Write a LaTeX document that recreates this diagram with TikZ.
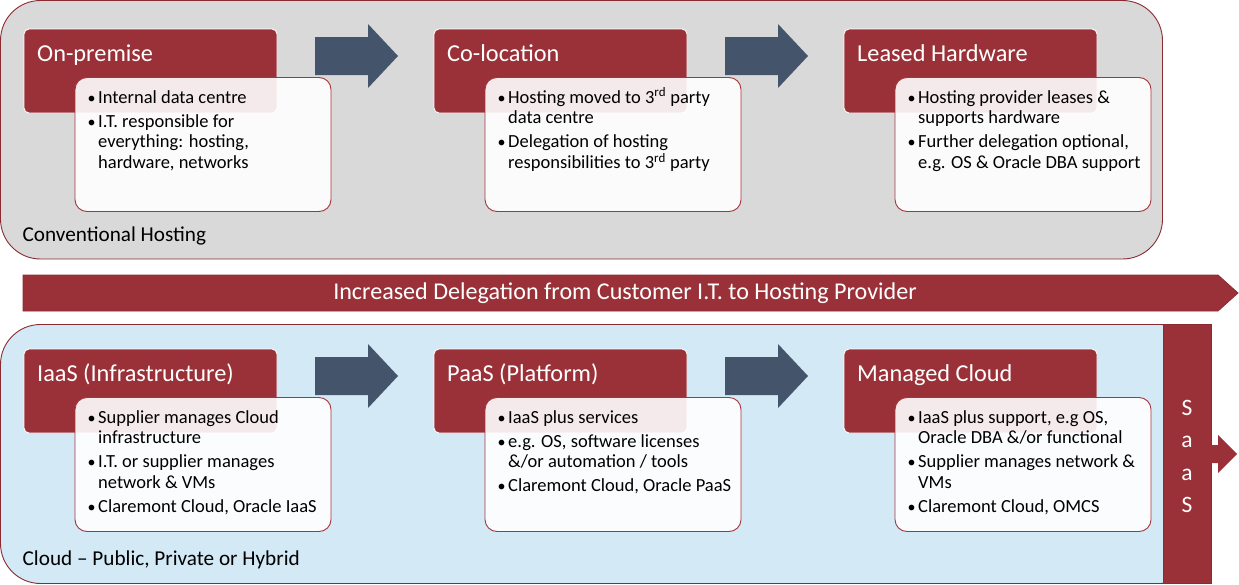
\documentclass[tikz,border=0pt]{standalone}
\usepackage{fontspec}
\setmainfont{Carlito}
\definecolor{boxred}{HTML}{9B3138}
\definecolor{edgered}{HTML}{8A2B32}
\definecolor{lineRed}{HTML}{A3353D}
\definecolor{arrowblue}{HTML}{44546A}
\definecolor{hostgray}{HTML}{D9D9D9}
\definecolor{cloudblue}{HTML}{D3E9F5}
\newcommand{\blist}[1]{\vtop{\hsize=260pt\parindent=0pt\fontsize{18.5}{20.7}\selectfont\parskip=3.4pt\raggedright #1}}
\newcommand{\bitem}[1]{\hangindent=11pt\hangafter=1\noindent\makebox[11pt][l]{\kern0.5pt{\fontsize{16}{16}\selectfont\textbullet}}#1\par}
\tikzset{
  container/.style={draw=edgered, line width=0.9pt, rounded corners=40pt},
  headbox/.style={fill=boxred, draw=white, line width=0.9pt, rounded corners=5pt},
  textbox/.style={fill=white, fill opacity=0.9, draw=lineRed, line width=0.9pt, rounded corners=12pt},
  headtitle/.style={anchor=base west, inner sep=0pt, text=white, font=\fontsize{24.3}{28}\selectfont},
  bullets/.style={anchor=base west, inner sep=0pt, text=black, text opacity=1},
  bluearrow/.style={fill=arrowblue},
  redshape/.style={fill=boxred, draw=edgered, line width=0.8pt},
  grouplabel/.style={anchor=base west, inner sep=0pt, font=\fontsize{21.2}{25}\selectfont},
}
\begin{document}
\begin{tikzpicture}[x=1pt,y=-1pt]
\useasboundingbox (0,0) rectangle (1239,584);
% containers
\draw[container, fill=hostgray] (0.5,0.5) rectangle (1162.5,259);
\draw[container, fill=cloudblue] (0.5,324.5) rectangle (1200,583.5);
\node[grouplabel] (conv) at (22.5,241) {Conventional Hosting};
\node[grouplabel] (cloud) at (22.5,565) {Cloud – Public, Private or Hybrid};
% big arrow
\draw[redshape] (23,275) -- (1218,275) -- (1238,293) -- (1218,311) -- (23,311) -- cycle;
\node[anchor=base, inner sep=0pt, text=white, font=\fontsize{24.1}{28}\selectfont] (deleg) at (625,299.5) {Increased Delegation from Customer I.T. to Hosting Provider};
% SaaS bar
\draw[redshape] (1163,324.5) rectangle (1211,583.5);
\fill[boxred] (1210,445) -- (1218,445) -- (1218,435) -- (1237,454) -- (1218,473) -- (1218,463) -- (1210,463) -- cycle;
\node[anchor=base, inner sep=0pt, text=white] (saas) at (1187,415) {\vtop{\hsize=30pt\centering\fontsize{23.5}{32.6}\selectfont S\par a\par a\par S\par}};
% blue arrows
\foreach \dx/\dy [count=\i] in {0/0,410/0,0/320,410/320}{
  \fill[bluearrow] (315+\dx,37+\dy) -- (368+\dx,37+\dy) -- (368+\dx,24+\dy) -- (398+\dx,56+\dy) -- (368+\dx,88+\dy) -- (368+\dx,75+\dy) -- (315+\dx,75+\dy) -- cycle;
}
% blocks
\newcommand{\block}[5]{%
  \draw[headbox] (24+#1,29+#2) rectangle (277+#1,113+#2);
  \node[headtitle] (title#3) at (37+#1,61.5+#2) {#4};
  \draw[textbox] (75+#1,77.5+#2) rectangle (331+#1,211.5+#2);
  \node[bullets] (list#3) at (87+#1,103+#2) {\blist{#5}};
}
\block{0}{0}{a}{On-premise}{\bitem{Internal data centre}\bitem{I.T. responsible for\newline everything: hosting,\newline hardware, networks}}
\block{410}{0}{b}{Co-location}{\bitem{Hosting moved to 3\textsuperscript{rd} party\newline data centre}\bitem{Delegation of hosting\newline responsibilities to 3\textsuperscript{rd} party}}
\block{820}{0}{c}{Leased Hardware}{\bitem{Hosting provider leases \&\newline supports hardware}\bitem{Further delegation optional,\newline e.g. OS \& Oracle DBA support}}
\block{0}{320}{d}{IaaS (Infrastructure)}{\bitem{Supplier manages Cloud\newline infrastructure}\bitem{I.T. or supplier manages\newline network \& VMs}\bitem{Claremont Cloud, Oracle IaaS}}
\block{410}{320}{e}{PaaS (Platform)}{\bitem{IaaS plus services}\bitem{e.g. OS, software licenses\newline \&/or automation / tools}\bitem{Claremont Cloud, Oracle PaaS}}
\block{820}{320}{f}{Managed Cloud}{\bitem{IaaS plus support, e.g OS,\newline Oracle DBA \&/or functional}\bitem{Supplier manages network \&\newline VMs}\bitem{Claremont Cloud, OMCS}}
\end{tikzpicture}
\end{document}
